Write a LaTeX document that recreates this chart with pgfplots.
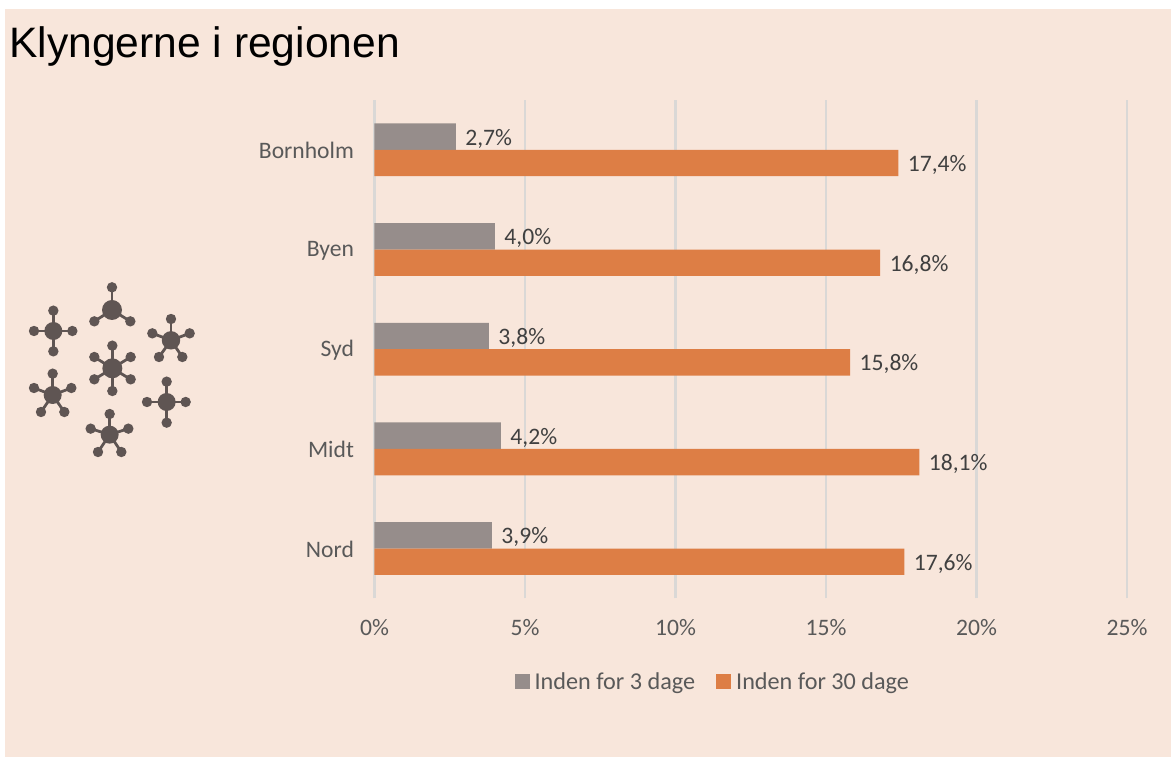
\documentclass[border=0pt]{standalone}
\usepackage{pgfplots}
\pgfplotsset{compat=1.18}
\usepackage{fontspec}
\setmainfont{Carlito}
\newfontfamily\titlefont{Liberation Sans}
\definecolor{panel}{HTML}{F8E6DB}
\definecolor{graybar}{HTML}{968D8B}
\definecolor{orangebar}{HTML}{DD7E45}
\definecolor{gridc}{HTML}{DAD8D6}
\definecolor{lab}{HTML}{595959}
\definecolor{vallab}{HTML}{404040}
\definecolor{icon}{HTML}{5F5553}
\newcommand{\pxfont}{\fontsize{23.6}{26}\selectfont}
\newcommand{\legfont}{\fontsize{24.2}{26}\selectfont}
% cluster icon: centre x,y (zoomed px), radius, list of arm ends
\newcommand{\cluster}[4]{%
  \foreach \a/\b in {#4}{%
    \draw[icon,line width=2.8pt] ({#1/3},{488-#2/3}) -- ({\a/3},{488-\b/3});
    \fill[icon] ({\a/3},{488-\b/3}) circle (5.2);
  }%
  \fill[icon] ({#1/3},{488-#2/3}) circle (#3);
}
\begin{document}
\begin{tikzpicture}[x=1pt,y=1pt]
\path[fill=white] (0,0) rectangle (1171,758);
\fill[panel] (5,1) rectangle (1171,749);
\cluster{160}{183}{9}{160/122,102/183,217/183,160/244}
\cluster{336}{120}{10}{336/52,283/154,391/154}
\cluster{513}{211}{9.2}{513/147,457/190,569/190,477/261,547/261}
\cluster{337}{295}{10}{337/227,283/261,392/261,283/328,392/328,337/363}
\cluster{158}{375}{9}{158/311,102/354,214/354,123/426,193/426}
\cluster{500}{396}{9}{500/335,441/396,557/396,500/458}
\cluster{329}{494}{9}{329/432,272/476,385/476,294/546,364/546}
\begin{axis}[
  at={(374.5pt,159.6pt)}, anchor=south west,
  scale only axis, width=752.6pt, height=498.4pt,
  xmin=0, xmax=25, ymin=-0.5, ymax=4.5,
  clip=false,
  xbar, bar width=26.4pt,
  axis line style={draw=none},
  major tick length=0pt,
  xtick={0,5,10,15,20,25},
  ytick={0,1,2,3,4},
  yticklabels={Nord,Midt,Syd,Byen,Bornholm},
  xmajorgrids, grid style={gridc,line width=2.2pt},
  /pgf/number format/assume math mode=true,
  xticklabel={\pgfmathprintnumber{\tick}\%},
  tick label style={font=\pxfont,text=lab},
  xticklabel style={yshift=-17pt},
  yticklabel style={xshift=-17pt,yshift=-1pt},
  point meta=x,
  nodes near coords={\pgfmathprintnumber[fixed,fixed zerofill,precision=1,use comma]{\pgfplotspointmeta}\%},
  every node near coord/.append style={font=\pxfont,text=vallab,xshift=6pt,yshift=-2pt},
  title={\titlefont\fontsize{42.6}{48}\selectfont Klyngerne i regionen},
  title style={at={(-0.4857,1.074)},anchor=base west,inner sep=0pt,text=black},
  legend columns=2,
  legend style={at={(0.4495,-0.1665)},anchor=center,draw=none,fill=none,font=\legfont,text=lab,
    /tikz/every even column/.append style={column sep=19pt},
    inner sep=0pt,outer sep=0pt},
  legend image code/.code={\fill[#1,draw=none] (0pt,-7.5pt) rectangle (15pt,7.5pt);\path (18pt,0pt);},
]
\addplot[fill=graybar,draw=none,bar shift=13.2pt] coordinates {(3.9,0) (4.2,1) (3.8,2) (4.0,3) (2.7,4)};
\addplot[fill=orangebar,draw=none,bar shift=-13.2pt] coordinates {(17.6,0) (18.1,1) (15.8,2) (16.8,3) (17.4,4)};
\legend{Inden for 3 dage,Inden for 30 dage}
\end{axis}
\end{tikzpicture}
\end{document}
